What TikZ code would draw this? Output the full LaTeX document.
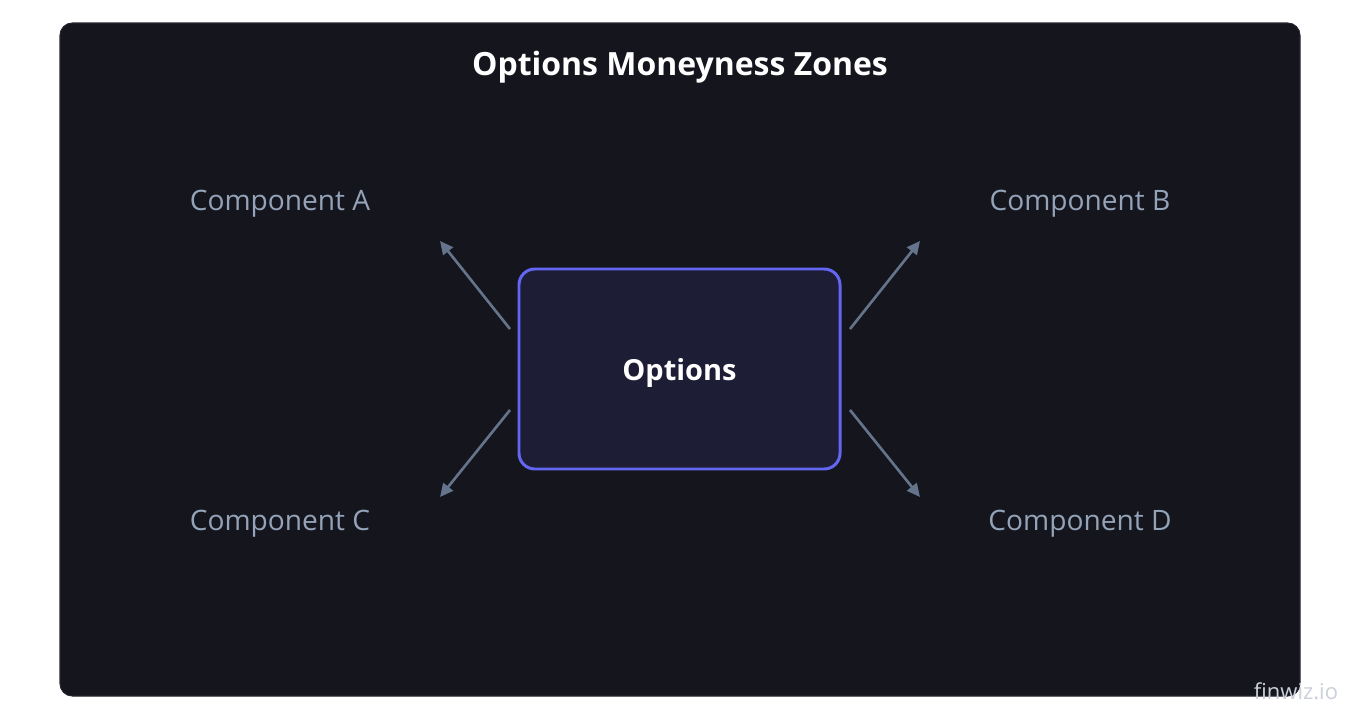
\documentclass[tikz,border=0pt]{standalone}
\usepackage{fontspec}
\setmainfont{Open Sans}
\usepackage{tikz}
\usetikzlibrary{arrows.meta}
\definecolor{panelbg}{HTML}{15151E}
\definecolor{panelline}{HTML}{25252F}
\definecolor{boxbg}{HTML}{1D1D35}
\definecolor{boxline}{HTML}{6366F1}
\definecolor{compgray}{HTML}{94A3B8}
\definecolor{arrowgray}{HTML}{64748B}
\definecolor{markgray}{HTML}{CBD0DA}

\begin{document}
\begin{tikzpicture}[
x=0.02cm, y=-0.02cm,
Panel/.style={fill=panelbg,draw=panelline,line width=0.6pt,rounded corners=7pt},
MainBox/.style={draw=boxline,fill=boxbg,line width=1.7pt,rounded corners=9pt,
  minimum width=321*0.02cm,minimum height=200*0.02cm,text depth=0pt},
Comp/.style={text=compgray,font=\fontsize{16}{19}\selectfont},
Links/.style={draw=arrowgray,line width=1.5pt,-{Triangle[length=7.5pt,width=7pt]}}
]
\useasboundingbox (0,0) rectangle (1360,720);
\fill[white] (0,0) rectangle (1360,720);

% background panel
\draw[Panel] (60,23) rectangle (1300,696);
\node[text=white,font=\bfseries\fontsize{18.2}{21}\selectfont] (title) at (680,67) {Options Moneyness Zones};

% center box
\node[MainBox,text=white,font=\bfseries\fontsize{16.5}{20}\selectfont] (opt) at (679.5,369) {Options};

% labels
\node[Comp] (compA) at (280,204) {Component A};
\node[Comp] (compB) at (1080,204) {Component B};
\node[Comp] (compC) at (280,524) {Component C};
\node[Comp] (compD) at (1080,524) {Component D};

% arrow ends
\coordinate (sA) at (510,329); \coordinate (eA) at (440,241);
\coordinate (sB) at (850,329); \coordinate (eB) at (920,241);
\coordinate (sC) at (510,410); \coordinate (eC) at (440,497);
\coordinate (sD) at (850,410); \coordinate (eD) at (920,497);

\draw[Links] (sA) -- (eA);
\draw[Links] (sB) -- (eB);
\draw[Links] (sC) -- (eC);
\draw[Links] (sD) -- (eD);

\node[text=markgray,font=\fontsize{12.5}{14}\selectfont] (mark) at (1296,691) {finwiz.io};
\end{tikzpicture}
\end{document}
